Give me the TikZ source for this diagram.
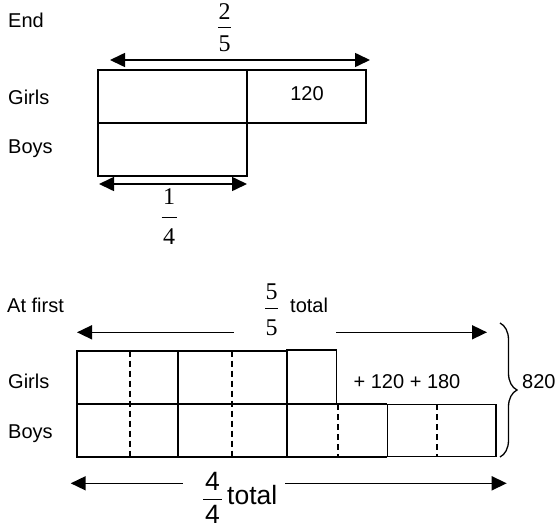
\documentclass[tikz,border=0pt]{standalone}
\usepackage{fontspec}
\setmainfont{Liberation Sans}
\newfontfamily\timesdigits{Liberation Serif}
\usetikzlibrary{arrows.meta,decorations.pathreplacing}

\begin{document}
\begin{tikzpicture}[x=1pt,y=-1pt,
  lab/.style={font=\fontsize{20}{24}\selectfont, inner sep=0pt},
  biglab/.style={font=\fontsize{26.5}{30}\selectfont, inner sep=0pt},
  frdigit/.style={font=\timesdigits\fontsize{24}{28}\selectfont, inner sep=0pt},
  fracbar/.style={line width=1pt},
  thickbox/.style={draw, line width=2pt},
  thinbox/.style={draw, line width=1.3pt},
  partline/.style={line width=1.6pt, dash pattern=on 6pt off 4pt},
  headtip/.tip={Triangle[length=15pt, width=14pt]},
  dimarrow/.style={line width=1.6pt},
  bracestyle/.style={line width=1.3pt, decorate,
    decoration={brace, amplitude=17pt, aspect=0.5}}
]
\useasboundingbox (0,0) rectangle (559,530);

% ---------- End ----------
\node[lab, anchor=base west] (endlbl) at (8,27.5) {End};
\node[lab, anchor=base west] (girlsA) at (8,104) {Girls};
\node[lab, anchor=base west] (boysA) at (8,153) {Boys};

\draw[thickbox] (97.5,69.5) rectangle (246.5,122.5);
\draw[thickbox] (246.5,69.5) rectangle (365.5,122.5);
\draw[thickbox] (97.5,122.5) rectangle (246.5,175.5);
\node[lab, anchor=base] (girlsextra) at (307,100) {120};

% two fifths over the girls bar
\node[frdigit] (numA) at (224.5,11.5) {2};
\node[frdigit] (denA) at (224.5,43.5) {5};
\draw[fracbar] (218,27.3) -- (231,27.3);
\coordinate (girlsL) at (110,60);
\coordinate (girlsR) at (370,60);
\draw[dimarrow, headtip-headtip] (girlsL) -- (girlsR);

% one quarter under the boys bar
\coordinate (boysL) at (99,184);
\coordinate (boysR) at (247,184);
\draw[dimarrow, headtip-headtip] (boysL) -- (boysR);
\node[frdigit] (numB) at (169,197) {1};
\draw[fracbar] (161.5,217) -- (176.5,217);
\node[frdigit] (denB) at (169,236.5) {4};

% ---------- At first ----------
\node[lab, anchor=base west] (firstlbl) at (7,312) {At first};
\node[lab, anchor=base west] (girlsB) at (8,388) {Girls};
\node[lab, anchor=base west] (boysB) at (8,438) {Boys};

% five fifths
\node[frdigit] (numC) at (271.5,291.7) {5};
\draw[fracbar] (265,308.3) -- (278,308.3);
\node[frdigit] (denC) at (271.5,327.7) {5};
\node[lab, anchor=base west] (totalC) at (290,312) {total};

\coordinate (topLtip) at (77,332.3);
\coordinate (topLend) at (234,332.3);
\coordinate (topRend) at (336,332.3);
\coordinate (topRtip) at (487,332.3);
\draw[dimarrow, headtip-] (topLtip) -- (topLend);
\draw[dimarrow, -headtip] (topRend) -- (topRtip);

% girls row
\draw[thickbox] (76.7,350.7) rectangle (178.3,404);
\draw[thickbox] (178.3,350.7) rectangle (286.7,404);
\draw[thinbox] (286.7,350) rectangle (336.7,404);
% boys row
\draw[thickbox] (76.7,404) rectangle (178.3,456.7);
\draw[thickbox] (178.3,404) rectangle (286.7,456.7);
\draw[thickbox] (286.7,404) -- (387.3,404) (286.7,456.7) -- (387.3,456.7);
\draw[thinbox] (387.3,404.3) rectangle (496,456.7);

% halves
\draw[partline] (130,350.7) -- (130,456.7);
\draw[partline] (231.7,350.7) -- (231.7,456.7);
\draw[partline] (337.7,404) -- (337.7,456.7);
\draw[partline] (436.7,404.3) -- (436.7,456.7);

\node[lab, anchor=base] (extra) at (407,388) {+ 120 + 180};

% total brace
\coordinate (braceTop) at (500,323);
\coordinate (braceBot) at (500,457);
\draw[bracestyle] (braceTop) -- (braceBot);
\node[lab, anchor=base west] (sum) at (522,388) {820};

% four quarters
\coordinate (botLtip) at (70.7,483.3);
\coordinate (botLend) at (183.3,483.3);
\coordinate (botRend) at (285,483.3);
\coordinate (botRtip) at (506.7,483.3);
\draw[dimarrow, headtip-] (botLtip) -- (botLend);
\draw[dimarrow, -headtip] (botRend) -- (botRtip);
\node[biglab] (numD) at (212.5,481) {4};
\draw[fracbar] (203,499.5) -- (222,499.5);
\node[biglab] (denD) at (212.5,514.5) {4};
\node[biglab, anchor=base west] (totalD) at (227,504) {total};
\end{tikzpicture}
\end{document}
